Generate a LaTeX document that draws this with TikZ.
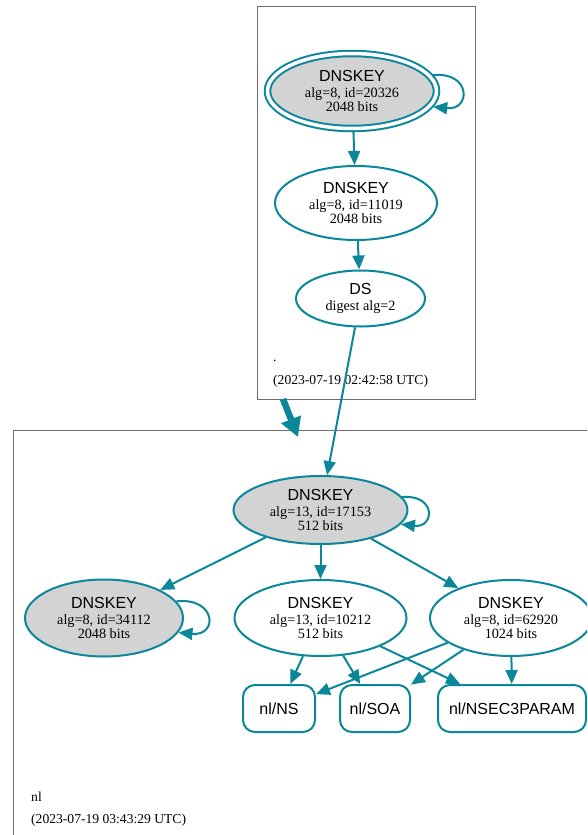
\documentclass[tikz,border=0pt]{standalone}
\usepackage{fontspec}
\setmainfont{Liberation Serif}
\setsansfont{Liberation Sans}
\usetikzlibrary{shapes.geometric,arrows.meta}

\definecolor{dnsteal}{HTML}{0A879A}
\definecolor{sepgray}{HTML}{D3D3D3}
\definecolor{zoneline}{HTML}{6E6E6E}

% first line of a key/record label, set in the sans face
\newcommand{\rrhead}[1]{{\sffamily\fontsize{16}{16}\selectfont #1}\\[2.5pt]}

\tikzset{
  edge/.style={draw=dnsteal, line width=2pt, -{Triangle[length=14pt,width=12pt]}},
  zonelink/.style={draw=dnsteal, line width=6.5pt, -{Triangle[length=19pt,width=20pt]}},
  keynode/.style={ellipse, draw=dnsteal, line width=2pt, inner sep=0pt, align=center, fill=white},
  sepnode/.style={keynode, fill=sepgray},
  trustnode/.style={sepnode, double=white, double distance=3.5pt, outer sep=3.5pt},
  rrnode/.style={rectangle, rounded corners=12pt, draw=dnsteal, line width=2pt,
    inner sep=0pt, minimum height=47, font=\sffamily\fontsize{16}{16}\selectfont},
  zonebox/.style={draw=zoneline, line width=1pt},
  zonelabel/.style={anchor=base west, inner sep=0pt, font=\fontsize{13.6}{14}\selectfont},
}

\begin{document}
\begin{tikzpicture}[x=1pt,y=-1pt,
  every node/.style={font=\fontsize{14.2}{13.5}\selectfont}]
\useasboundingbox (0,0) rectangle (587,835);
\clip (0,0) rectangle (587,835);
\fill[white] (0,0) rectangle (587,835);

% zone boxes
\draw[zonebox] (257,6) rectangle (475,399);
\draw[zonebox] (13.5,850) -- (13.5,430) -- (600,430);

% root zone
\node[trustnode, minimum width=169, minimum height=75] (k20326) at (352,91)
  {\rrhead{DNSKEY}alg=8, id=20326\\2048 bits};
\node[keynode, minimum width=162, minimum height=74] (k11019) at (356,203)
  {\rrhead{DNSKEY}alg=8, id=11019\\2048 bits};
\node[keynode, minimum width=129, minimum height=56] (ds) at (360.5,298.5)
  {\rrhead{DS}digest alg=2};
\node[zonelabel] (rootname) at (273,361) {.};
\node[zonelabel] (rootdate) at (273,384.5) {(2023-07-19 02:42:58 UTC)};

% nl zone
\node[sepnode, minimum width=174, minimum height=68] (z17153) at (320.5,510)
  {\rrhead{DNSKEY}alg=13, id=17153\\512 bits};
\node[sepnode, minimum width=158, minimum height=77] (z34112) at (104,618)
  {\rrhead{DNSKEY}alg=8, id=34112\\2048 bits};
\node[keynode, minimum width=172, minimum height=76] (z10212) at (320.5,618)
  {\rrhead{DNSKEY}alg=13, id=10212\\512 bits};
\node[keynode, minimum width=162, minimum height=76] (z62920) at (511,618)
  {\rrhead{DNSKEY}alg=8, id=62920\\1024 bits};

\node[rrnode, minimum width=72] (ns) at (279,708.5) {nl/NS};
\node[rrnode, minimum width=70] (soa) at (375,708.5) {nl/SOA};
\node[rrnode, minimum width=148] (nsec3) at (512,708.5) {nl/NSEC3PARAM};

\node[zonelabel] (nlname) at (31,801.5) {nl};
\node[zonelabel] (nldate) at (31,823.5) {(2023-07-19 03:43:29 UTC)};

% delegation from the root zone to nl
\coordinate (rootexit) at (283,399);
\coordinate (nlentry) at (298,437);
\draw[zonelink] (rootexit) -- (nlentry);

% signing and delegation edges
\draw[edge] (k20326) -- (k11019);
\draw[edge] (k11019) -- (ds);
\draw[edge] (ds) -- (z17153);
\draw[edge] (z17153) -- (z34112);
\draw[edge] (z17153) -- (z10212);
\draw[edge] (z17153) -- (z62920);
\draw[edge] (z10212) -- (ns);
\draw[edge] (z10212) -- (soa);
\draw[edge] (z10212) -- (nsec3);
\draw[edge] (z62920) -- (ns);
\draw[edge] (z62920) -- (soa);
\draw[edge] (z62920) -- (nsec3);

% self-signatures
\draw[edge] (k20326.11) .. controls +(38,-4) and +(38,4) .. (k20326.-11);
\draw[edge] (z17153.9) .. controls +(34,-3) and +(34,4) .. (z17153.-10);
\draw[edge] (z34112.13) .. controls +(40,-4) and +(40,4) .. (z34112.-11);
\end{tikzpicture}
\end{document}
